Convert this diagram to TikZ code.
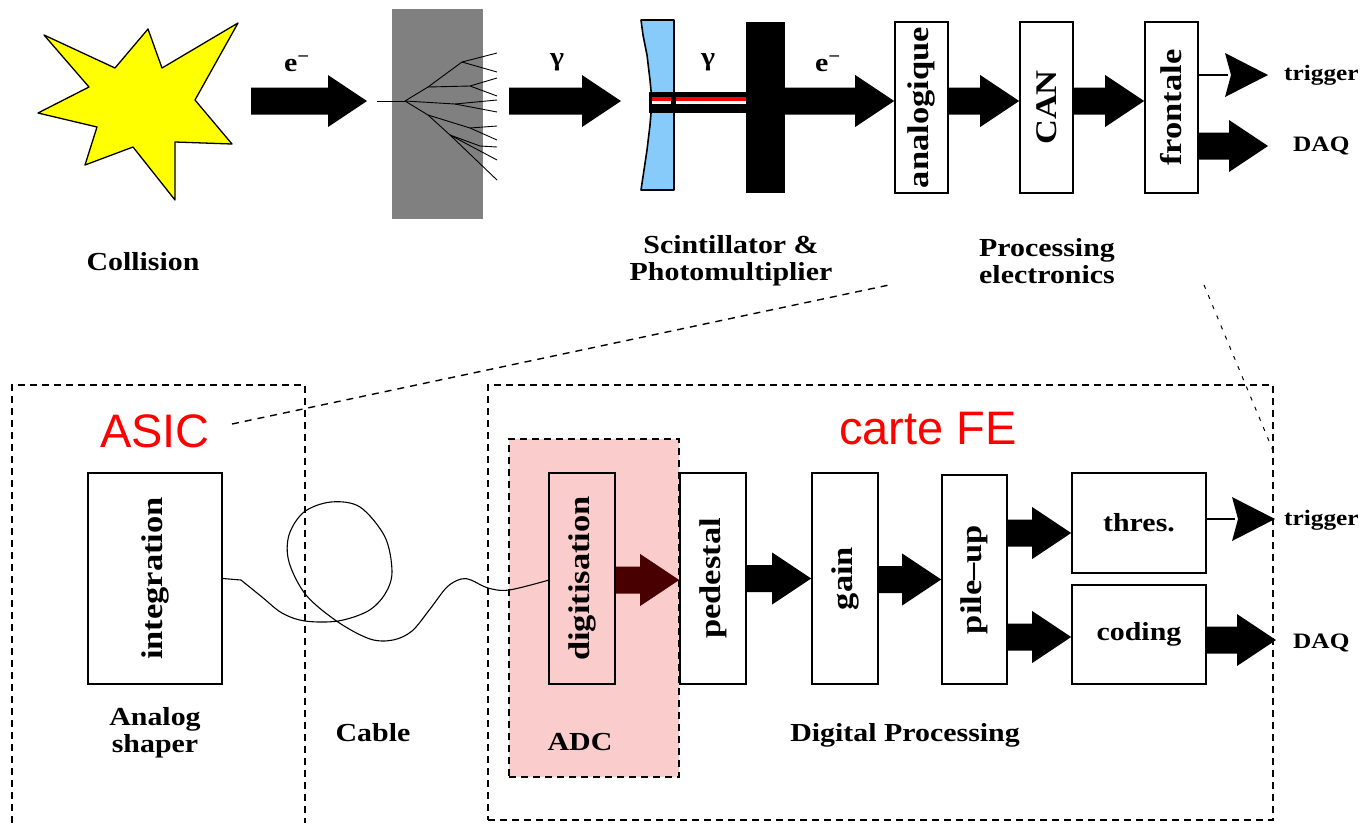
\documentclass[tikz,border=0pt]{standalone}
\usepackage{fontspec}
\setmainfont{Liberation Serif}
\newfontfamily\labfont[FakeStretch=1.15]{Liberation Serif}
\newfontfamily\redfont{Liberation Sans}
\usetikzlibrary{calc}

\definecolor{starfill}{RGB}{255,255,0}
\definecolor{scintblue}{RGB}{135,203,250}
\definecolor{absgray}{RGB}{128,128,128}
\definecolor{adcpink}{RGB}{250,204,204}
\definecolor{darkarrow}{RGB}{72,0,0}

% thick block arrow between two points (shaft half width 13.5, head 39 long)
\newcommand{\fatarrow}[3][black]{%
  \fill[#1] let \p1=#2, \p2=#3 in
    (\x1,\y1+13.5pt) -- (\x2-39pt,\y2+13.5pt) -- (\x2-39pt,\y2+26pt) -- (\x2,\y2)
    -- (\x2-39pt,\y2-26pt) -- (\x2-39pt,\y2-13.5pt) -- (\x1,\y1-13.5pt) -- cycle;}
% thin line ending in a large triangular head
\newcommand{\thinarrow}[2]{%
  \draw[line width=1.6pt] let \p1=#1, \p2=#2 in (\x1,\y1) -- (\x2-40pt,\y2);
  \fill let \p2=#2 in (\x2-43pt,\y2+22pt) -- (\x2,\y2) -- (\x2-43pt,\y2-22pt) -- (\x2-37pt,\y2) -- cycle;}

\tikzset{
  every node/.style={inner sep=0pt},
  vbox/.style={draw, line width=1.6pt, font=\labfont\bfseries\fontsize{30}{30}\selectfont},
  hbox/.style={draw, line width=1.6pt, font=\labfont\bfseries\fontsize{26}{26}\selectfont},
  caption/.style={font=\labfont\bfseries\fontsize{26}{27}\selectfont, align=center},
  particle/.style={font=\labfont\bfseries\fontsize{26}{26}\selectfont},
  outlbl/.style={font=\labfont\bfseries\fontsize{22}{22}\selectfont, anchor=west},
  redlbl/.style={text=red, font=\redfont\fontsize{47}{47}\selectfont},
  group/.style={line width=1.6pt, dash pattern=on 7pt off 5pt},
  zoomline/.style={line width=1.4pt, dash pattern=on 7pt off 6pt},
  zoomthin/.style={line width=1pt, dash pattern=on 4pt off 7pt},
  shower/.style={line width=0.9pt, line join=round},
  wire/.style={line width=1.1pt},
}

\begin{document}
\begin{tikzpicture}[x=1pt, y=-1pt]
\useasboundingbox (0,0) rectangle (1364,823);

% ---------------- detector chain ----------------
% collision star
\filldraw[fill=starfill, draw=black, line width=1.3pt, line join=round]
  (44,35) -- (115,68) -- (148,29) -- (162,68) -- (238,23) -- (195,100) -- (232,144)
  -- (175,142) -- (175,200) -- (133,147) -- (85,165) -- (97,127) -- (38,113) -- (89,87) -- cycle;
\node[caption] (coll) at (143,262) {Collision};

\coordinate (toprow) at (0,101);
\coordinate (e1a) at (251,101);
\coordinate (e1b) at (367,101);
\fatarrow{(e1a)}{(e1b)}
\node[particle] (e1) at (297,64) {e\textsuperscript{−}};

% absorber with shower
\node[fill=absgray, minimum width=91pt, minimum height=210pt] (abs) at (437.5,114) {};
\draw[shower] (377,101) -- (405,101);
\draw[shower] (405,101) -- (428,87) -- (462,62) -- (497,53);
\draw[shower] (462,62) -- (497,72);
\draw[shower] (428,87) -- (470,86) -- (497,78);
\draw[shower] (470,86) -- (497,96);
\draw[shower] (405,101) -- (455,104) -- (497,100);
\draw[shower] (455,104) -- (497,112);
\draw[shower] (405,101) -- (428,115) -- (470,128) -- (497,126);
\draw[shower] (470,128) -- (497,140);
\draw[shower] (428,115) -- (450,135) -- (497,160);
\draw[shower] (450,135) -- (480,146) -- (497,147);
\draw[shower] (450,135) -- (497,180);

\coordinate (g1a) at (509,101);
\coordinate (g1b) at (621,101);
\fatarrow{(g1a)}{(g1b)}
\node[particle] (g1) at (557,62) {γ};

% scintillator, light guide and photomultiplier
\filldraw[fill=scintblue, draw=black, line width=1.6pt, line join=round]
  (641,20) -- (674,20) -- (674,190) -- (641,190) -- (644,170) -- (647,150) -- (650,125)
  -- (652,101) -- (650,80) -- (647,55) -- (643,35) -- cycle;
\fill[black] (649,92) rectangle (746,113);
\fill[red] (652,97) rectangle (746,100.5);
\fill[white] (652,100.5) rectangle (746,104);
\fill[black] (671,92) rectangle (676,113);
\node[particle] (g2) at (708,62) {γ};
\node[fill=black, minimum width=39pt, minimum height=171pt] (pmt) at (765.5,107.5) {};
\node[caption] (scint) at (731,261) {Scintillator \&\\Photomultiplier};

% processing electronics
\node[vbox, minimum width=53pt, minimum height=171pt] (ana) at (921.5,107.5) {\rotatebox{90}{analogique}};
\node[vbox, minimum width=53pt, minimum height=171pt] (can) at (1046.5,107.5) {\rotatebox{90}{CAN}};
\node[vbox, minimum width=53pt, minimum height=171pt] (fro) at (1171.5,107.5) {\rotatebox{90}{frontale}};
\node[caption] (proc) at (1047,261) {Processing\\electronics};

\fatarrow{(pmt.east |- toprow)}{(ana.west |- toprow)}
\node[particle] (e2) at (828,64) {e\textsuperscript{−}};
\fatarrow{(ana.east |- toprow)}{(can.west |- toprow)}
\fatarrow{(can.east |- toprow)}{(fro.west |- toprow)}

\coordinate (toptrig) at (0,75);
\coordinate (topdaq) at (0,146);
\coordinate (trigtop) at (1268,75);
\coordinate (daqtop) at (1268,146);
\thinarrow{(fro.east |- toptrig)}{(trigtop)}
\fatarrow{(fro.east |- topdaq)}{(daqtop)}
\node[outlbl] (trig1) at (1284,75) {trigger};
\node[outlbl] (daq1) at (1293,146) {DAQ};

% ---------------- readout detail ----------------
% zoom lines from the processing electronics
\coordinate (z1a) at (232,424);
\coordinate (z1b) at (889,285);
\draw[zoomline] (z1a) -- (z1b);
\coordinate (z2a) at (1204,285);
\coordinate (z2b) at (1274,453);
\draw[zoomthin] (z2a) -- (z2b);

% group frames
\draw[group] (12,823) -- (12,385) -- (305,385) -- (305,823);
\node[group, draw, minimum width=785pt, minimum height=435pt] (fe) at (880.5,602.5) {};
\node[group, draw, fill=adcpink, minimum width=170pt, minimum height=338pt] (adc) at (594,608) {};
\node[redlbl] (asic) at (155,431) {ASIC};
\node[redlbl] (carte) at (928,429) {carte FE};

% blocks
\node[vbox, minimum width=134pt, minimum height=211pt] (int) at (155,578.5) {\rotatebox{90}{integration}};
\node[vbox, minimum width=66pt, minimum height=211pt] (dig) at (582,578.5) {\rotatebox{90}{digitisation}};
\node[vbox, minimum width=66pt, minimum height=211pt] (ped) at (713,578.5) {\rotatebox{90}{pedestal}};
\node[vbox, minimum width=66pt, minimum height=211pt] (gain) at (845,578.5) {\rotatebox{90}{gain}};
\node[vbox, minimum width=65pt, minimum height=209pt] (pile) at (974.5,579.5) {\rotatebox{90}{pile–up}};
\node[hbox, minimum width=134pt, minimum height=100pt] (thres) at (1139,523) {thres.};
\node[hbox, minimum width=134pt, minimum height=99pt] (coding) at (1139,634.5) {coding};

% cable from shaper to ADC
\draw[wire] (int.east) -- (241,580) -- plot[smooth, tension=0.55] coordinates {
  (241,580) (262,597) (282,613) (305,621) (338,621) (368,611) (385,594) (392,572)
  (385,537) (360,507) (331,502) (304,512) (289,535) (289,562) (306,595) (338,622)
  (370,639) (393,640) (412,631) (430,609) (447,587) (461,579) (471,580) (488,588)
  (509,590) (549,580)};

% data flow arrows
\coordinate (adcrow) at (0,580);
\coordinate (uprow) at (0,533);
\coordinate (lowrow) at (0,637);
\coordinate (trigrow) at (0,519);
\coordinate (daqrow) at (0,640);
\coordinate (trigout) at (1275,519);
\coordinate (daqout) at (1276,640);
\fatarrow[darkarrow]{(dig.east |- adcrow)}{(ped.west |- adcrow)}
\fatarrow{(ped.east)}{(gain.west)}
\fatarrow{(gain.east |- pile.west)}{(pile.west)}
\fatarrow{(pile.east |- uprow)}{(thres.west |- uprow)}
\fatarrow{(pile.east |- lowrow)}{(coding.west |- lowrow)}
\thinarrow{(thres.east |- trigrow)}{(trigout)}
\fatarrow{(coding.east |- daqrow)}{(daqout)}
\node[outlbl] (trig2) at (1284,520) {trigger};
\node[outlbl] (daq2) at (1293,643) {DAQ};

% captions
\node[caption] (shaper) at (155,733) {Analog\\shaper};
\node[caption] (cable) at (373,733) {Cable};
\node[caption] (adclbl) at (580,742) {ADC};
\node[caption] (dproc) at (905,735) {Digital Processing};
\end{tikzpicture}
\end{document}
